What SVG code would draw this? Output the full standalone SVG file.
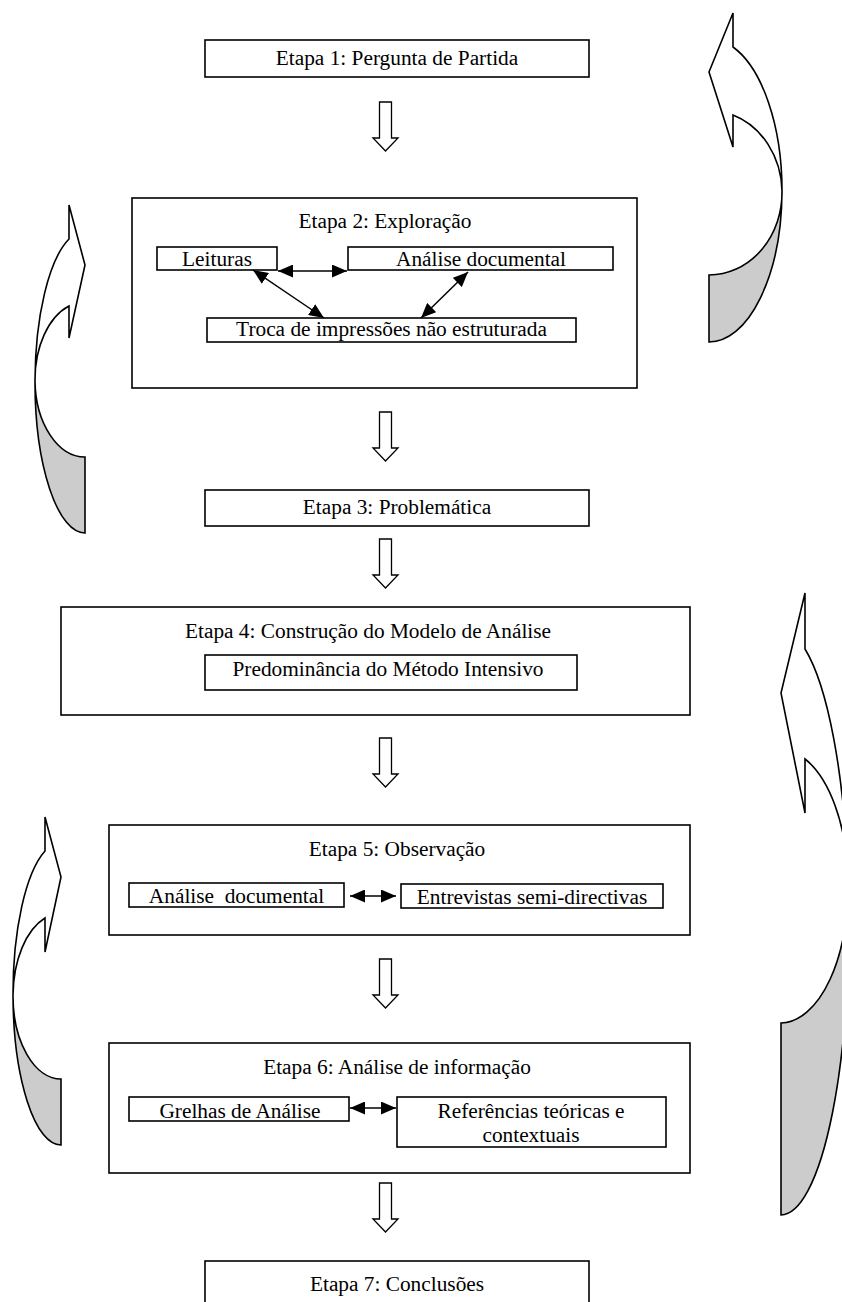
<svg xmlns="http://www.w3.org/2000/svg" width="842" height="1302" viewBox="0 0 842 1302">
<defs>
<style>
text { font-family: "Liberation Serif", "Times New Roman", serif; font-size: 21.33px; fill: #000; text-anchor: middle; }
.box { fill: #fff; stroke: #000; stroke-width: 1.6; }
.blk { fill: #fff; stroke: #000; stroke-width: 1.3; }
.link { stroke: #000; stroke-width: 1.5; fill: none; marker-start: url(#ah); marker-end: url(#ah); }
.cw { fill: #fff; stroke: #000; stroke-width: 1.6; }
.cg { fill: #cccccc; stroke: #000; stroke-width: 1.6; }
</style>
<marker id="ah" viewBox="0 0 15 13" refX="15" refY="6.5" markerWidth="15" markerHeight="13" markerUnits="userSpaceOnUse" orient="auto-start-reverse"><path d="M0,0 L15,6.5 L0,13 Z" fill="#000"/></marker>
<path id="down" d="M-6,0 H6 V36 H12.5 L0,49 L-12.5,36 H-6 Z"/>
</defs>
<rect width="842" height="1302" fill="#fff"/>

<g id="curved-arrows">
  <g id="loop-top-right">
    <path class="cg" d="M782 191 A73 152 0 0 1 709 342 L709 275 A73 82.3 0 0 0 782 191 Z"/>
    <path class="cw" d="M733 47 L733 13 L709 72 L733 147 L733 115 A73 82.3 0 0 1 782 191 A73 152 0 0 0 733 47 Z"/>
  </g>
  <g id="loop-top-left">
    <path class="cg" d="M35 381 A50 151 0 0 0 85 533 L85 457 A50 77.6 0 0 1 35 381 Z"/>
    <path class="cw" d="M69 239 L69 205 L85 265 L69 338 L69 306 A50 77.6 0 0 0 35 381 A50 151 0 0 1 69 239 Z"/>
  </g>
  <g id="loop-right-big">
    <path class="cg" d="M848 877 A68 292.4 0 0 1 781 1215 L781 1023 A68 136.4 0 0 0 848 877 Z"/>
    <path class="cw" d="M805 649 L805 593 L781 693 L805 813 L805 759 A68 136.4 0 0 1 848 877 A68 292.4 0 0 0 805 649 Z"/>
  </g>
  <g id="loop-bottom-left">
    <path class="cg" d="M13 995 A48 151.3 0 0 0 61 1145 L61 1079 A48 82.9 0 0 1 13 995 Z"/>
    <path class="cw" d="M45 851 L45 817 L61 877 L45 952 L45 918 A48 82.9 0 0 0 13 995 A48 151.3 0 0 1 45 851 Z"/>
  </g>
</g>

<g id="etapa1">
  <rect class="box" x="205" y="40" width="384" height="37"/>
  <text x="397" y="65">Etapa 1: Pergunta de Partida</text>
</g>

<g id="etapa2">
  <rect class="box" x="132" y="198" width="505" height="190"/>
  <text x="385" y="228">Etapa 2: Exploração</text>
  <g id="leituras">
    <rect class="box" x="157" y="247" width="120" height="23"/>
    <text x="217" y="266">Leituras</text>
  </g>
  <g id="analise-documental-2">
    <rect class="box" x="348" y="247" width="265" height="23"/>
    <text x="481" y="266">Análise documental</text>
  </g>
  <g id="troca">
    <rect class="box" x="207" y="318" width="369" height="24"/>
    <text x="391.5" y="336">Troca de impressões não estruturada</text>
  </g>
</g>

<g id="etapa3">
  <rect class="box" x="205" y="490" width="384" height="36"/>
  <text x="397" y="514">Etapa 3: Problemática</text>
</g>

<g id="etapa4">
  <rect class="box" x="61" y="607" width="629" height="108"/>
  <text x="368" y="638">Etapa 4: Construção do Modelo de Análise</text>
  <g id="predominancia">
    <rect class="box" x="205" y="655" width="372" height="35"/>
    <text x="388" y="676">Predominância do Método Intensivo</text>
  </g>
</g>

<g id="etapa5">
  <rect class="box" x="109" y="825" width="581" height="110"/>
  <text x="397" y="856">Etapa 5: Observação</text>
  <g id="analise-documental-5">
    <rect class="box" x="129" y="883" width="215" height="24"/>
    <text x="236.5" y="903" style="white-space:pre">Análise  documental</text>
  </g>
  <g id="entrevistas">
    <rect class="box" x="401" y="884" width="262" height="24"/>
    <text x="532" y="904">Entrevistas semi-directivas</text>
  </g>
</g>

<g id="etapa6">
  <rect class="box" x="109" y="1043" width="581" height="130"/>
  <text x="397" y="1074">Etapa 6: Análise de informação</text>
  <g id="grelhas">
    <rect class="box" x="129" y="1097" width="220" height="24"/>
    <text x="240" y="1118">Grelhas de Análise</text>
  </g>
  <g id="referencias">
    <rect class="box" x="397" y="1097" width="269" height="50"/>
    <text x="531" y="1118">Referências teóricas e</text>
    <text x="531" y="1142">contextuais</text>
  </g>
</g>

<g id="etapa7">
  <rect class="box" x="205" y="1261" width="384" height="60"/>
  <text x="397" y="1291">Etapa 7: Conclusões</text>
</g>

<g id="connectors">
  <use href="#down" class="blk" x="385.5" y="102"/>
  <use href="#down" class="blk" x="385.5" y="412"/>
  <use href="#down" class="blk" x="385.5" y="539"/>
  <use href="#down" class="blk" x="385.5" y="738"/>
  <use href="#down" class="blk" x="385.5" y="959"/>
  <use href="#down" class="blk" x="385.5" y="1183"/>
  <line class="link" x1="278" y1="271" x2="347" y2="271"/>
  <line class="link" x1="253" y1="270" x2="324" y2="318"/>
  <line class="link" x1="468" y1="272" x2="421" y2="318"/>
  <line class="link" x1="350" y1="896" x2="396" y2="896"/>
  <line class="link" x1="350" y1="1108" x2="396" y2="1108"/>
</g>
</svg>
